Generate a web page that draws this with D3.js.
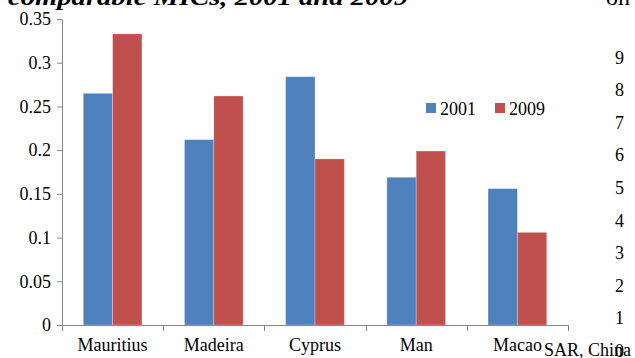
<!DOCTYPE html>
<html><head><meta charset="utf-8">
<script src="https://cdn.jsdelivr.net/npm/d3@7"></script>
<style>body{margin:0;background:#fff}svg{display:block}text{font-family:"Liberation Serif","Times New Roman",serif}</style>
</head><body>
<svg id="c" width="635" height="358"></svg>
<script>
const categories = ["Mauritius","Madeira","Cyprus","Man","Macao"];
const series = ["2001","2009"];
const values2001 = [0.265, 0.212, 0.284, 0.169, 0.156];
const values2009 = [0.333, 0.262, 0.190, 0.199, 0.106];
const yTicks = [0,0.05,0.1,0.15,0.2,0.25,0.3,0.35];
const rightTicks = [0,1,2,3,4,5,6,7,8,9];
const colors = ["#4F81BD","#C0504D"];

const svg = d3.select("#c");
const x = d3.scaleBand().domain(categories).range([62,568]).paddingInner(0.42).paddingOuter(0.21);
const xs = d3.scaleBand().domain(series).range([0,x.bandwidth()]);
const y = d3.scaleLinear().domain([0,0.35]).range([325,19]);
const y2 = d3.scaleLinear().domain([0,10]).range([350.5,25]);

// title fragment (cropped)
svg.append("text").attr("x",8).attr("y",5).attr("font-size",24).attr("font-weight","bold").attr("font-style","italic")
  .attr("textLength",400).attr("lengthAdjust","spacingAndGlyphs").text("comparable MICs, 2001 and 2009");
svg.append("text").attr("x",606).attr("y",5).attr("font-size",24).text("on");

// bars
const data = categories.map((c,i)=>({c, v:[values2001[i], values2009[i]]}));
const g = svg.append("g");
data.forEach(d=>{
  series.forEach((s,j)=>{
    g.append("rect").attr("x",x(d.c)+xs(s)).attr("y",y(d.v[j])).attr("width",xs.bandwidth()).attr("height",y(0)-y(d.v[j]))
     .attr("fill",colors[j]).attr("stroke","#fff").attr("stroke-opacity",0.35).attr("stroke-width",0.8);
  });
});

// y axis
const ya = svg.append("g").attr("transform","translate(62,0)")
  .call(d3.axisLeft(y).tickValues(yTicks).tickFormat(d=>d3.format("")(+d.toFixed(2))).tickSize(5).tickSizeOuter(0).tickPadding(6));
ya.select(".domain").attr("stroke","#868686");
ya.selectAll(".tick line").attr("stroke","#868686");
ya.selectAll("text").attr("font-size",18).attr("fill","#000").attr("font-family","Liberation Serif");

// x axis
const xa = svg.append("g").attr("transform","translate(0,325)")
  .call(d3.axisBottom(x).tickSize(0).tickPadding(10));
xa.select(".domain").remove();
svg.append("line").attr("x1",62).attr("x2",568).attr("y1",325.5).attr("y2",325.5).attr("stroke","#868686");
const bounds = categories.map(c=>x(c)-x.step()*x.paddingInner()/2).concat([568]);
bounds.forEach(b=>svg.append("line").attr("x1",Math.round(b)+0.5).attr("x2",Math.round(b)+0.5).attr("y1",325).attr("y2",331).attr("stroke","#868686"));
xa.selectAll("text").attr("font-size",18).attr("fill","#000").attr("font-family","Liberation Serif").attr("dy","0.9em");
svg.append("text").attr("x",544).attr("y",356).attr("font-size",18).text("SAR, China");

// right axis (numbers only)
const ra = svg.append("g").attr("transform","translate(612,0)")
  .call(d3.axisRight(y2).tickValues(rightTicks).tickSize(0).tickPadding(3));
ra.select(".domain").remove();
ra.selectAll("text").attr("font-size",18).attr("fill","#000").attr("font-family","Liberation Serif");

// legend
const lg = svg.append("g");
const lx = [426,495];
series.forEach((s,j)=>{
  lg.append("rect").attr("x",lx[j]).attr("y",103).attr("width",10).attr("height",10).attr("fill",colors[j]);
  lg.append("text").attr("x",lx[j]+14).attr("y",115).attr("font-size",18).text(s);
});
</script>
</body></html>
